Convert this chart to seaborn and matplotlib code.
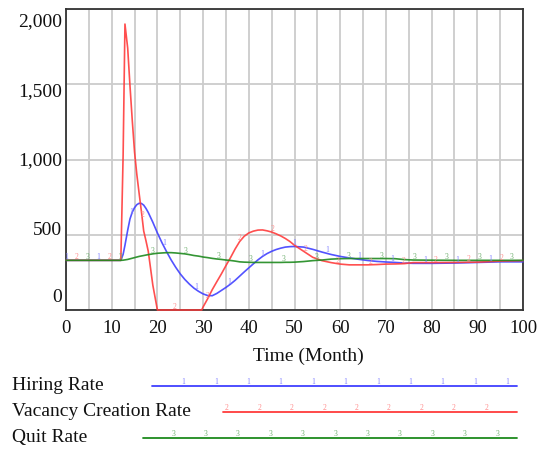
import numpy as np
import pandas as pd
import matplotlib
matplotlib.use("Agg")
import matplotlib.pyplot as plt
from matplotlib.lines import Line2D
import seaborn as sns

# ---------------- data ----------------
time = [0, 12, 12.5, 12.9, 13.5, 14, 14.5, 15, 15.5, 16, 16.5, 17, 17.5, 18, 19, 20,
        21, 22, 23, 24, 25, 26, 27, 28, 29, 29.7, 30, 31, 32, 33, 34, 35, 36, 37,
        38, 39, 40, 41, 42, 43, 44, 45, 46, 47, 48, 49, 50, 52, 54, 56, 58, 60,
        62, 64, 66, 68, 70, 72, 74, 76, 80, 85, 90, 95, 100]

hiring_rate = [330, 330, 370, 430, 530, 605, 650, 680, 700, 709, 708, 697, 675, 648,
               583, 512, 447, 388, 333, 284, 240, 203, 172, 145, 124, 112, 107, 96,
               95, 110, 130, 150, 172, 197, 225, 253, 280, 307, 333, 356, 375, 390,
               402, 411, 418, 421, 422, 418, 403, 385, 369, 356, 346, 337, 329, 323,
               319, 316, 312, 310, 310, 312, 316, 320, 320]

vacancy_creation_rate = [330, 330, 1030, 1900, 1740, 1490, 1260, 1050, 900, 775, 655,
                         525, 460, 390, 165, 0, 0, 0, 0, 0, 0, 0, 0, 0, 0, 0, 20, 75,
                         135, 188, 240, 295, 348, 405, 455, 490, 512, 524, 531, 532,
                         526, 518, 506, 492, 475, 455, 430, 390, 350, 328, 315, 305,
                         300, 300, 300, 302, 305, 306, 308, 315, 315, 316, 318, 325,
                         328]

quit_rate = [330, 330, 331, 333, 336, 340, 344, 348, 352, 356, 359, 362, 365, 368, 373,
             377, 379, 381, 381, 379, 376, 373, 368, 362, 358, 354, 352, 348, 343,
             339, 336, 332, 329, 325, 320, 318, 317, 316, 316, 316, 316, 316, 316,
             316, 317, 317, 318, 322, 328, 332, 338, 341, 342, 342, 342, 342, 342,
             341, 335, 332, 331, 330, 330, 330, 330]

series_names = ["Hiring Rate", "Vacancy Creation Rate", "Quit Rate"]
series_digits = ["1", "2", "3"]
x_ticks = [0, 10, 20, 30, 40, 50, 60, 70, 80, 90, 100]
y_ticks = [0, 500, 1000, 1500, 2000]
y_tick_labels = ["0", "500", "1,000", "1,500", "2,000"]
x_label = "Time (Month)"

# ---------------- style ----------------
sns.set_theme(style="white")
plt.rcParams["font.family"] = ["Liberation Serif", "DejaVu Serif"]
plt.rcParams["text.color"] = "#111111"

colors = ["#4040ff", "#ff3c3c", "#1e8a1e"]
digit_colors = ["#8080ff", "#ff8a8a", "#70b070"]

df = pd.DataFrame({
    "Time": time * 3,
    "Value": hiring_rate + vacancy_creation_rate + quit_rate,
    "Series": sum([[n] * len(time) for n in series_names], []),
})

W, H = 552, 450
fig = plt.figure(figsize=(W / 100, H / 100), dpi=100)
L, R, T, B = 66, 523, 9, 310
ax = fig.add_axes([L / W, 1 - B / H, (R - L) / W, (B - T) / H])

sns.lineplot(data=df, x="Time", y="Value", hue="Series", hue_order=series_names,
             palette=colors, ax=ax, legend=False, linewidth=1.2,
             estimator=None, sort=False, alpha=0.9)
for ln in ax.get_lines():
    ln.set_zorder(3)
    ln.set_clip_on(False)

ax.set_xlim(0, 100)
ax.set_ylim(0, 2000)

# grid
ax.set_xticks(x_ticks)
ax.set_xticks(list(range(0, 101, 5)), minor=True)
ax.set_yticks(y_ticks)
ax.grid(True, which="both", axis="x", color="#cccccc", linewidth=1.3)
ax.grid(True, which="major", axis="y", color="#cccccc", linewidth=1.3)
ax.set_axisbelow(True)

ax.tick_params(axis="x", which="both", length=0, pad=7, labelsize=13.5, colors="#111111")
ax.tick_params(axis="y", which="major", direction="in", length=3, width=1,
               color="#444444", labelleft=False)
ax.set_yticklabels([])

# y tick labels (placed like the reference, offset from their grid lines)
label_shift = {0: -12, 500: -4, 1000: 1, 1500: 7, 2000: 13}
for v, lab in zip(y_ticks, y_tick_labels):
    ax.annotate(lab, xy=(0, v), xycoords=("axes fraction", "data"),
                xytext=(-4, -label_shift[v]), textcoords="offset pixels",
                ha="right", va="center", fontsize=14, color="#111111")

for s in ax.spines.values():
    s.set_color("#333333")
    s.set_linewidth(1.3)
    s.set_zorder(2.5)

ax.set_xlabel(x_label, fontsize=14, color="#111111")
ax.xaxis.set_label_coords((308 - L) / (R - L), (B - 356) / (B - T))
ax.xaxis.label.set_va("center")
ax.set_ylabel("")

# small series digits along the lines (Vensim style)
series_vals = [hiring_rate, vacancy_creation_rate, quit_rate]
for i, vals in enumerate(series_vals):
    tpos = np.arange(i * 2.38, 100.01, 7.14)
    for t in tpos:
        yv = np.interp(t, time, vals)
        ax.annotate(series_digits[i], xy=(t, yv), xytext=(0, 3),
                    textcoords="offset pixels", ha="center", va="center",
                    fontsize=5.5, color=digit_colors[i], clip_on=True)

# legend below the chart
legend_rows = [(385.7, 152), (411.7, 223), (437.7, 143)]
digit_offsets = [280.7, 291.7, 302.7]
for i, (name, (yy, x0)) in enumerate(zip(series_names, legend_rows)):
    fig.text(12 / W, 1 - yy / H, name, ha="left", va="center",
             fontsize=14, color="#111111")
    fig.add_artist(Line2D([x0 / W, 517 / W], [1 - yy / H, 1 - yy / H],
                          transform=fig.transFigure, color=colors[i], linewidth=1.3))
    xs = digit_offsets[i] + 32.4 * np.arange(-8, 9)
    for xd in xs:
        if x0 + 2 <= xd <= 518:
            fig.text(xd / W, 1 - (yy - 4) / H, series_digits[i], ha="center",
                     va="center", fontsize=5.5, color=digit_colors[i])

fig.savefig("out.png", dpi=100)
